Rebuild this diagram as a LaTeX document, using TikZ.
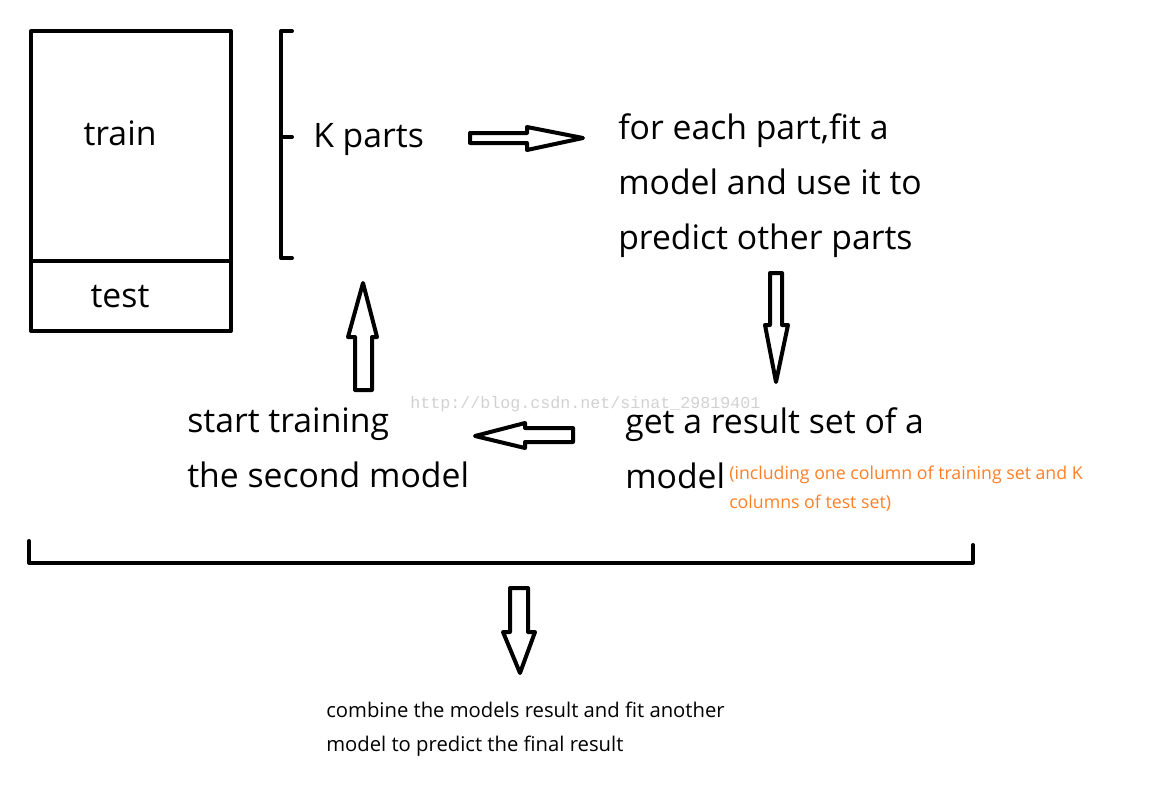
\documentclass[tikz,border=0pt]{standalone}
\usepackage{fontspec}
\setmainfont{Open Sans}
\newfontfamily\wmfont{Liberation Mono}
\definecolor{noteorange}{RGB}{255,127,39}
\begin{document}
\begin{tikzpicture}[x=0.75pt,y=-0.75pt,
  thick line/.style={line width=3pt, line join=round, line cap=round},
  blockarrow/.style={line width=3pt, line join=round, fill=white},
  bigtext/.style={anchor=west, inner sep=0pt, align=left, font=\fontsize{25.3}{41.25}\selectfont},
  smalltext/.style={anchor=west, inner sep=0pt, align=left, text=noteorange, font=\fontsize{13.3}{21.75}\selectfont},
  midtext/.style={anchor=west, inner sep=0pt, align=left, font=\fontsize{15.2}{25.5}\selectfont}]
\useasboundingbox (0,0) rectangle (1152,786);
% train/test box
\draw[thick line, line cap=butt] (31,31) rectangle (231,331);
\draw[thick line] (31,261) -- (231,261);
\node[bigtext, anchor=center] (train) at (120,133) {train};
\node[bigtext, anchor=center] (test) at (120,297) {test};
% bracket
\draw[thick line] (292,31) -- (281,31) -- (281,258) -- (292,258);
\draw[thick line] (281,137) -- (292,137);
\node[bigtext] (kparts) at (313,140) {K parts};
% right arrow
\draw[blockarrow] (470,133) -- (527,133) -- (527,127) -- (583,138) -- (527,150) -- (527,143) -- (470,143) -- cycle;
\node[bigtext] (fit) at (618,186) {for each part,fit a\\model and use it to\\predict other parts};
% down arrow
\draw[blockarrow] (770,273) -- (782,273) -- (782,325) -- (788,325) -- (776,382) -- (765,325) -- (770,325) -- cycle;
% watermark
\node[anchor=west, inner sep=0pt, text=black!18, font=\wmfont\fontsize{12.5}{14}\selectfont] (wm) at (410,404) {http://blog.csdn.net/sinat\_29819401};
% result text
\node[bigtext] (res) at (625,448) {get a result set of a\\model};
\node[smalltext] (note) at (729,489) {(including one column of training set and K\\columns of test set)};
% left arrow
\draw[blockarrow] (573,428) -- (573,442) -- (525,442) -- (525,448) -- (475,436) -- (525,423) -- (525,428) -- cycle;
\node[bigtext] (start) at (187,448) {start training\\the second model};
% up arrow
\draw[blockarrow] (355,390) -- (372,390) -- (372,337) -- (377,337) -- (363,283) -- (348,337) -- (355,337) -- cycle;
% bottom bracket
\draw[thick line] (29,541) -- (29,563) -- (973,563) -- (973,545);
% bottom arrow
\draw[blockarrow] (510,588) -- (528,588) -- (528,632) -- (535,632) -- (520,673) -- (503,632) -- (510,632) -- cycle;
\node[midtext] (comb) at (326,729) {combine the models result and fit another\\model to predict the final result};
\end{tikzpicture}
\end{document}
